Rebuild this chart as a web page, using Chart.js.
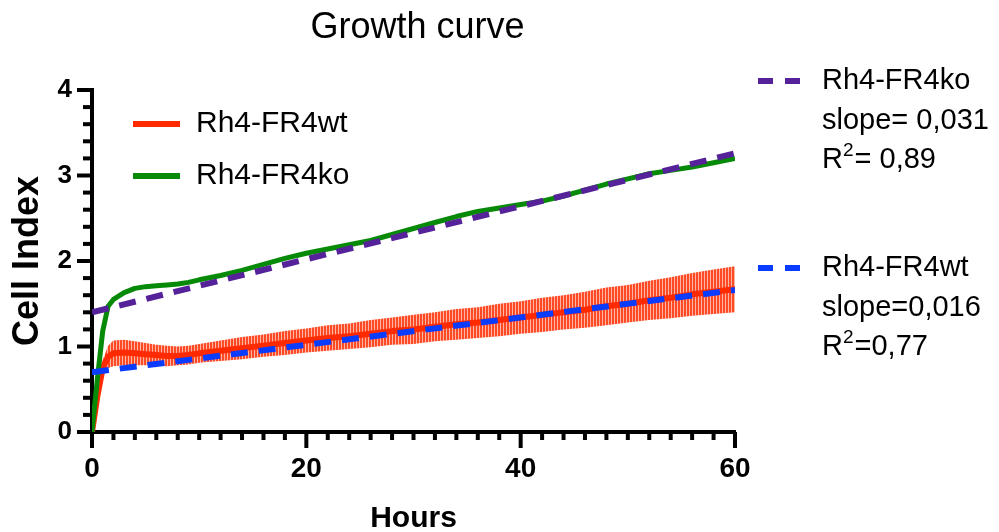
<!DOCTYPE html>
<html>
<head>
<meta charset="utf-8">
<title>Growth curve</title>
<script src="https://cdn.jsdelivr.net/npm/chart.js@4.4.1/dist/chart.umd.min.js"></script>
<style>
  body{margin:0;background:#fff;}
  #wrap{width:999px;height:532px;position:relative;}
</style>
</head>
<body>
<div id="wrap"><canvas id="growth-chart"></canvas></div>
<script>
/* ── data ── */
var hours  = [0,0.5,1,1.5,2,3,4,5,6,7,8,9,10,12,14,16,18,20,22,24,26,28,30,32,34,36,38,40,42,44,46,48,50,52,54,56,58,60];
var wtMean = [0,0.42,0.75,0.88,0.92,0.93,0.92,0.91,0.90,0.89,0.89,0.90,0.92,0.95,0.98,1.01,1.04,1.07,1.10,1.12,1.15,1.18,1.20,1.23,1.26,1.28,1.31,1.34,1.37,1.40,1.43,1.47,1.50,1.54,1.57,1.61,1.64,1.67];
var wtSd   = [0,0.04,0.09,0.13,0.15,0.15,0.14,0.13,0.12,0.12,0.11,0.11,0.11,0.12,0.13,0.13,0.14,0.14,0.15,0.15,0.16,0.16,0.17,0.17,0.18,0.18,0.19,0.19,0.20,0.20,0.21,0.22,0.22,0.23,0.24,0.25,0.26,0.27];
var koMean = [0,0.62,1.18,1.47,1.55,1.63,1.68,1.70,1.71,1.72,1.73,1.75,1.78,1.83,1.89,1.96,2.03,2.09,2.14,2.19,2.24,2.31,2.38,2.45,2.52,2.58,2.62,2.66,2.70,2.76,2.83,2.90,2.96,3.02,3.06,3.10,3.15,3.20];

var fitHours = [0,60];
var koFit    = [1.40,3.26];
var wtFit    = [0.70,1.66];

var seriesNames = ['Rh4-FR4wt','Rh4-FR4ko'];
var fitNames    = ['Rh4-FR4ko','Rh4-FR4wt'];
var fitSlopes   = ['slope= 0,031','slope=0,016'];
var fitR2       = ['= 0,89','=0,77'];

var xTicks = [0,20,40,60];
var yTicks = [0,1,2,3,4];
var X_MINOR = 2, Y_MINOR = 0.2;

var RED = '#ff2a00', GREEN = '#078a07', PURPLE = '#55229a', BLUE = '#0a3cff';
var FONT = "'Liberation Sans', Arial, sans-serif";
var TICK_FONT = "'Liberation Sans Narrow', 'Arial Narrow', 'Liberation Sans', Arial, sans-serif";

function pts(xs, ys, f){
  return xs.map(function(x,i){ return {x:x, y:f ? f(ys[i],i) : ys[i]}; });
}

// vertical stripes standing in for the dense error bars
function stripePattern(){
  var p = document.createElement('canvas');
  p.width = 3; p.height = 4;
  var g = p.getContext('2d');
  g.fillStyle = '#ff4a26'; g.fillRect(0,0,2,4);
  g.fillStyle = '#ffb4a4'; g.fillRect(2,0,1,4);
  return g.createPattern(p,'repeat');
}

/* axis tick marks, major ones longer */
var axisTicks = {
  id:'axisTicks',
  afterDraw:function(chart){
    var c = chart.ctx, xs = chart.scales.x, ys = chart.scales.y, a = chart.chartArea;
    c.save();
    c.strokeStyle = '#000'; c.lineWidth = 4;
    var nx = Math.round((xs.max - xs.min)/X_MINOR);
    for(var i=0;i<=nx;i++){
      var h = xs.min + i*X_MINOR;
      var px = xs.getPixelForValue(h);
      var len = xTicks.indexOf(h) >= 0 ? 16 : 8;
      c.beginPath(); c.moveTo(px, a.bottom); c.lineTo(px, a.bottom+len); c.stroke();
    }
    var ny = Math.round((ys.max - ys.min)/Y_MINOR);
    for(var j=0;j<=ny;j++){
      var v = ys.min + j*Y_MINOR;
      var py = ys.getPixelForValue(v);
      var l2 = (j % Math.round(1/Y_MINOR) === 0) ? 15 : 9;
      c.beginPath(); c.moveTo(a.left, py); c.lineTo(a.left-l2, py); c.stroke();
    }
    c.restore();
  }
};

/* title + the two legends */
var annotations = {
  id:'annotations',
  afterDraw:function(chart){
    var c = chart.ctx, a = chart.chartArea;
    c.save();
    c.fillStyle = '#000';
    c.textBaseline = 'middle';

    c.font = '36px ' + FONT;
    c.textAlign = 'center';
    c.fillText('Growth curve', (a.left+a.right)/2 + 4, 28);
    c.textAlign = 'left';

    // solid series legend inside the plot
    c.font = '30px ' + FONT;
    var solid = [[RED,124],[GREEN,176]];
    solid.forEach(function(s,i){
      c.strokeStyle = s[0]; c.lineWidth = 6;
      c.beginPath(); c.moveTo(133,s[1]); c.lineTo(180,s[1]); c.stroke();
      c.fillText(seriesNames[i], 196, s[1]);
    });

    // fit legend on the right
    var fits = [[PURPLE,81],[BLUE,268]];
    fits.forEach(function(f,i){
      c.strokeStyle = f[0]; c.lineWidth = 6;
      c.setLineDash([15,12]);
      c.beginPath(); c.moveTo(758,f[1]); c.lineTo(800,f[1]); c.stroke();
      c.setLineDash([]);
      c.font = '29px ' + FONT;
      c.fillText(fitNames[i], 822, f[1]);
      c.fillText(fitSlopes[i], 822, f[1]+40);
      var y3 = f[1]+79;
      c.fillText('R', 822, y3);
      var rw = c.measureText('R').width;
      c.font = '19px ' + FONT;
      c.fillText('2', 822+rw, y3-9);
      var sw = c.measureText('2').width;
      c.font = '29px ' + FONT;
      c.fillText(fitR2[i], 822+rw+sw+1, y3);
    });
    c.restore();
  }
};

new Chart(document.getElementById('growth-chart'), {
  type:'line',
  data:{
    datasets:[
      {label:'wt upper', data:pts(hours,wtMean,function(v,i){return v+wtSd[i];}),
        borderWidth:0, pointRadius:0, fill:false, order:6},
      {label:'wt lower', data:pts(hours,wtMean,function(v,i){return Math.max(0,v-wtSd[i]);}),
        borderWidth:0, pointRadius:0, fill:'-1', backgroundColor:stripePattern(), order:6},
      {label:seriesNames[0], data:pts(hours,wtMean), borderColor:RED, borderWidth:6,
        pointRadius:0, fill:false, borderJoinStyle:'round', order:5},
      {label:seriesNames[1], data:pts(hours,koMean), borderColor:GREEN, borderWidth:5,
        pointRadius:0, fill:false, borderJoinStyle:'round', order:4},
      {label:'ko fit', data:pts(fitHours,koFit), borderColor:PURPLE, borderWidth:6,
        borderDash:[17,11], pointRadius:0, fill:false, order:2},
      {label:'wt fit', data:pts(fitHours,wtFit), borderColor:BLUE, borderWidth:6,
        borderDash:[17,11], pointRadius:0, fill:false, order:1}
    ]
  },
  options:{
    responsive:true,
    maintainAspectRatio:false,
    animation:false,
    events:[],
    layout:{padding:{top:90,right:264,bottom:0,left:0}},
    plugins:{legend:{display:false}, tooltip:{enabled:false}, title:{display:false}},
    scales:{
      x:{
        type:'linear', min:0, max:60,
        afterBuildTicks:function(s){ s.ticks = xTicks.map(function(v){return {value:v};}); },
        afterFit:function(s){ s.height = 100; },
        grid:{display:false, drawTicks:false},
        border:{color:'#000', width:4},
        ticks:{color:'#000', padding:20, font:{family:TICK_FONT, size:28, weight:'bold'}},
        title:{display:true, text:'Hours', color:'#000', padding:0,
          font:{family:FONT, size:30, weight:'bold', lineHeight:0.9}}
      },
      y:{
        min:0, max:4,
        afterBuildTicks:function(s){ s.ticks = yTicks.map(function(v){return {value:v};}); },
        afterFit:function(s){ s.width = 92; },
        grid:{display:false, drawTicks:false},
        border:{color:'#000', width:4},
        ticks:{color:'#000', padding:20, font:{family:TICK_FONT, size:26, weight:'bold'}},
        title:{display:true, text:'Cell Index', color:'#000', padding:{top:6},
          font:{family:FONT, size:36, weight:'bold'}}
      }
    }
  },
  plugins:[axisTicks, annotations]
});
</script>
</body>
</html>
